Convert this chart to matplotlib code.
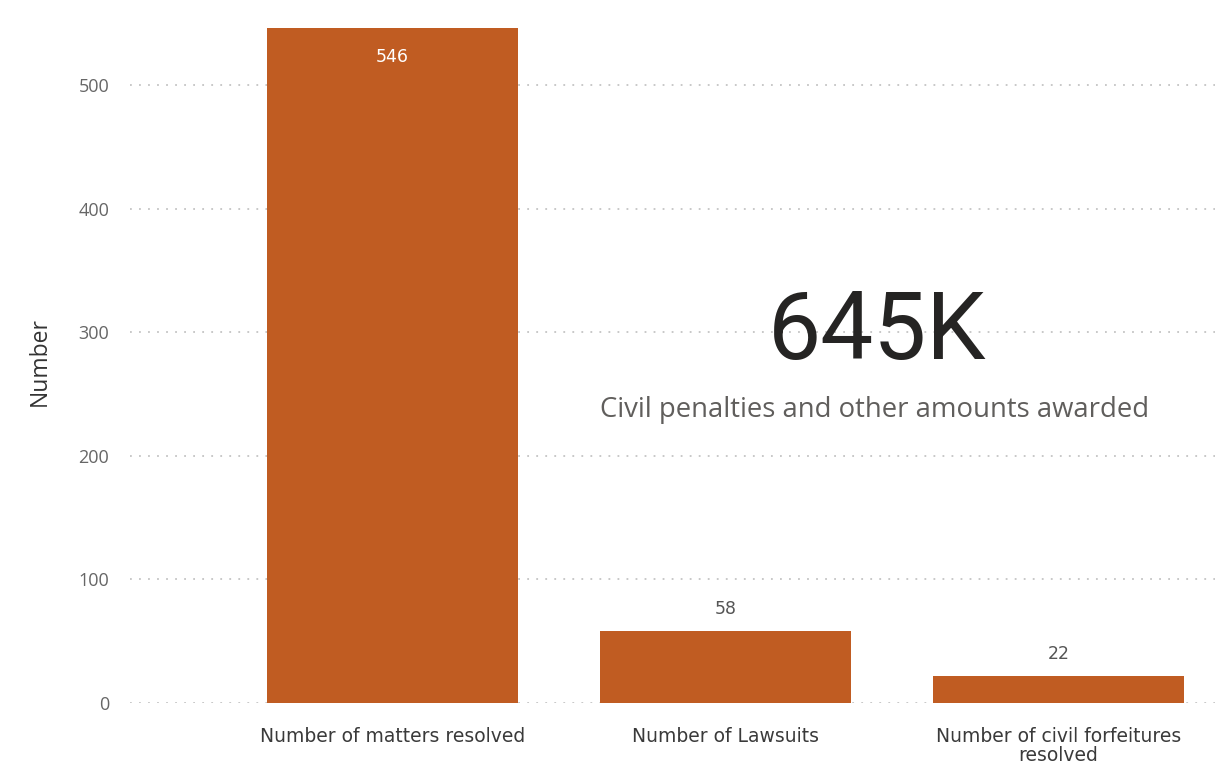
import matplotlib
matplotlib.use("Agg")
import matplotlib.pyplot as plt

categories = ["Number of matters resolved", "Number of Lawsuits",
              "Number of civil forfeitures\nresolved"]
values = [546, 58, 22]
yticks = [0, 100, 200, 300, 400, 500]
kpi_value = "645K"
kpi_label = "Civil penalties and other amounts awarded"

bar_color = "#C05C22"

fig = plt.figure(figsize=(12.2, 7.69), dpi=100)
ax = fig.add_axes([130 / 1220, 1 - 703 / 769, (1215 - 130) / 1220, (703 - 20) / 769])

x = list(range(len(categories)))
ax.bar(x, values, width=0.754, color=bar_color, zorder=2)

ax.set_xlim(-0.788, 2.47)
ax.set_ylim(0, 552.6)
ax.set_yticks(yticks)
ax.set_yticklabels([str(t) for t in yticks], fontsize=13, color="#666666",
                   family="Open Sans")
ax.set_xticks(x)
ax.set_xticklabels(categories, fontsize=13.5, color="#3a3a3a", family="DejaVu Sans",
                   linespacing=1.05)
ax.tick_params(axis="both", length=0)
ax.tick_params(axis="y", pad=15)
ax.tick_params(axis="x", pad=17)
ax.grid(axis="y", linestyle=(0, (1, 4)), color="#c4c4c4", linewidth=1.3, zorder=0)
for s in ax.spines.values():
    s.set_visible(False)

ax.set_ylabel("Number", fontsize=16.5, color="#333333", family="Open Sans", labelpad=19)

# value labels
for xi, v in zip(x, values):
    if v > 300:
        ax.annotate(str(v), (xi, v), xytext=(0, -21), textcoords="offset points",
                    ha="center", va="center", color="white", fontsize=12.5,
                    family="DejaVu Sans")
    else:
        ax.annotate(str(v), (xi, v), xytext=(0, 16), textcoords="offset points",
                    ha="center", va="center", color="#555555", fontsize=12.5,
                    family="DejaVu Sans")

# KPI card
fig.text(877 / 1220, 1 - 333 / 769, kpi_value, ha="center", va="center",
         fontsize=68, color="#252423", family="Roboto")
fig.text(875 / 1220, 1 - 410 / 769, kpi_label, ha="center", va="center",
         fontsize=19.8, color="#605E5C", family="Open Sans")

fig.savefig("out.png", dpi=100, facecolor="white")
